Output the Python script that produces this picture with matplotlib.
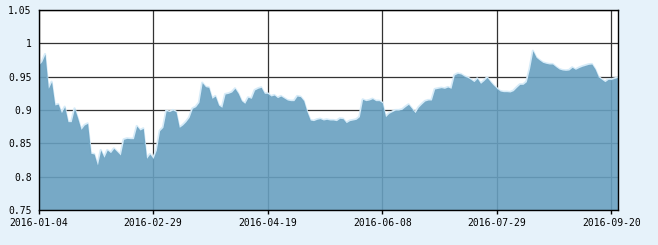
import matplotlib
matplotlib.use("Agg")
import matplotlib.pyplot as plt
import numpy as np

values = [
    0.9675, 0.9725, 0.984, 0.9325, 0.9425, 0.9075, 0.909, 0.896, 0.905, 0.8825,
    0.8825, 0.9025, 0.8875, 0.871, 0.8775, 0.88, 0.835, 0.834, 0.8175, 0.84,
    0.829, 0.84, 0.836, 0.8425, 0.8375, 0.8325, 0.856, 0.8575, 0.857, 0.857,
    0.876, 0.87, 0.8725, 0.8275, 0.834, 0.8275, 0.84, 0.869, 0.874, 0.899,
    0.8975, 0.90, 0.8975, 0.874, 0.8775, 0.8825, 0.889, 0.9025, 0.905, 0.9115,
    0.941, 0.935, 0.934, 0.9175, 0.921, 0.9075, 0.904, 0.924, 0.925, 0.927,
    0.9325, 0.925, 0.914, 0.91, 0.919, 0.9175, 0.93, 0.9325, 0.934, 0.925,
    0.925, 0.921, 0.9225, 0.9185, 0.921, 0.918, 0.915, 0.914, 0.914, 0.921,
    0.92, 0.914, 0.8975, 0.885, 0.884, 0.886, 0.887, 0.885, 0.886, 0.885,
    0.885, 0.884, 0.8875, 0.887, 0.881, 0.884, 0.885, 0.886, 0.89, 0.916,
    0.914, 0.915, 0.917, 0.914, 0.914, 0.911, 0.89, 0.895, 0.8975, 0.90,
    0.90, 0.901, 0.905, 0.9085, 0.9025, 0.896, 0.904, 0.909, 0.9135, 0.915,
    0.915, 0.9315, 0.9325, 0.9335, 0.9325, 0.9345, 0.9325, 0.9525, 0.955, 0.954,
    0.951, 0.949, 0.946, 0.9425, 0.9475, 0.94, 0.944, 0.949, 0.9425, 0.937,
    0.9325, 0.9285, 0.9275, 0.9275, 0.927, 0.929, 0.934, 0.9385, 0.9385, 0.9425,
    0.9625, 0.989, 0.979, 0.975, 0.9715, 0.97, 0.969, 0.969, 0.965, 0.9615,
    0.96, 0.9595, 0.96, 0.964, 0.961, 0.9635, 0.9655, 0.967, 0.9685, 0.969,
    0.9615, 0.95, 0.946, 0.9425, 0.946, 0.946, 0.9475, 0.949,
]
tick_positions = [0, 35, 70, 105, 140, 175]
tick_labels = ["2016-01-04", "2016-02-29", "2016-04-19", "2016-06-08", "2016-07-29", "2016-09-20"]
y_ticks = [0.75, 0.8, 0.85, 0.9, 0.95, 1.0, 1.05]
y_labels = ["0.75", "0.8", "0.85", "0.9", "0.95", "1", "1.05"]

x = np.arange(len(values))

fig = plt.figure(figsize=(6.58, 2.45), dpi=100)
fig.patch.set_facecolor("#E6F2FA")
ax = fig.add_axes([38.5 / 658, 1 - 210 / 245, (618 - 38.5) / 658, 200 / 245])
ax.set_facecolor("white")

ax.set_xlim(0, len(values) - 1)
ax.set_ylim(0.75, 1.05)

ax.grid(True, color="#333333", linewidth=0.9, zorder=1)
ax.set_axisbelow(True)

ax.plot(x, values, color="#d6ebf8", linewidth=1.6, zorder=2, solid_joinstyle="round")
ax.fill_between(x, values, 0.75, color=(104 / 255, 160 / 255, 192 / 255), alpha=0.9,
                linewidth=0, zorder=3)

ax.set_xticks(tick_positions)
ax.set_xticklabels(tick_labels)
ax.set_yticks(y_ticks)
ax.set_yticklabels(y_labels)

ax.tick_params(axis="x", direction="out", length=3, width=1, pad=3, labelsize=7,
               colors="black")
ax.tick_params(axis="y", length=0, pad=5, labelsize=7, colors="black")
for lab in ax.get_xticklabels() + ax.get_yticklabels():
    lab.set_family("DejaVu Sans Mono")

for sp in ax.spines.values():
    sp.set_color("black")
    sp.set_linewidth(1.0)
    sp.set_zorder(5)

fig.savefig("out.png", dpi=100, facecolor=fig.get_facecolor())
